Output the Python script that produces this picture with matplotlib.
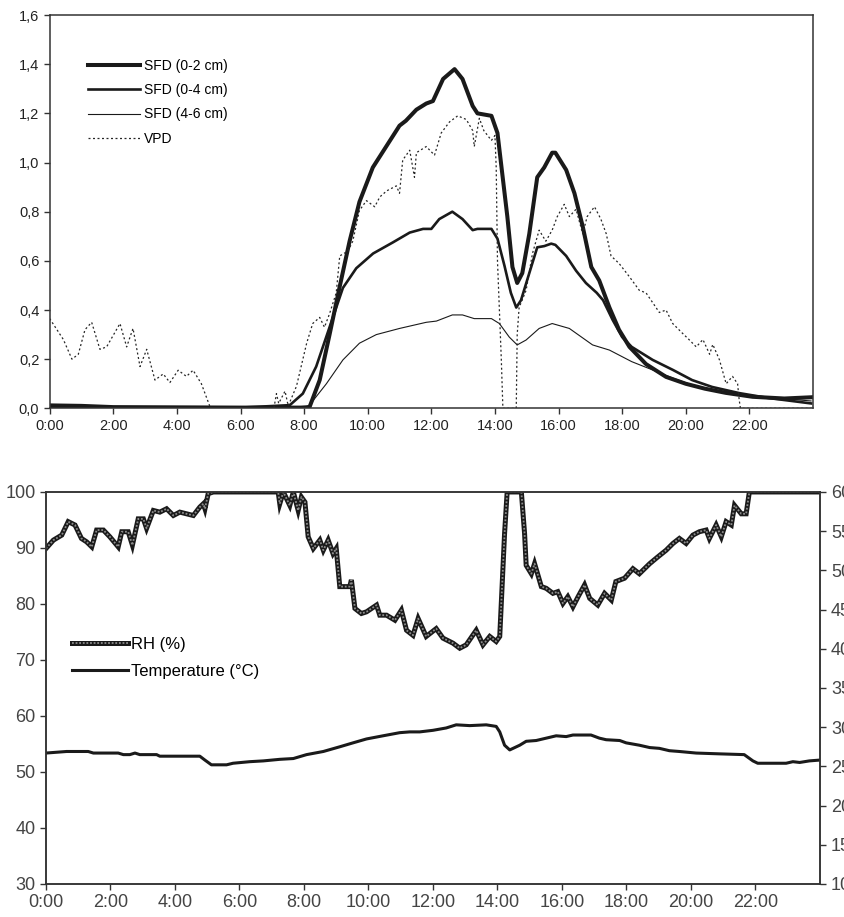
import matplotlib
matplotlib.use("Agg")
import matplotlib.pyplot as plt
from matplotlib.legend_handler import HandlerTuple

plt.rcParams['font.family'] = ['Liberation Sans', 'DejaVu Sans']

# ---- top panel: sap flux density and VPD ----
hour_ticks = [0, 2, 4, 6, 8, 10, 12, 14, 16, 18, 20, 22]
hour_labels = ['0:00', '2:00', '4:00', '6:00', '8:00', '10:00', '12:00',
               '14:00', '16:00', '18:00', '20:00', '22:00']
top_yticks = [0.0, 0.2, 0.4, 0.6, 0.8, 1.0, 1.2, 1.4, 1.6]
top_ylabels = ['0,0', '0,2', '0,4', '0,6', '0,8', '1,0', '1,2', '1,4', '1,6']

t_sfd02 = [0, 1.0, 2.0, 6.0, 7.9, 8.17, 8.49, 8.8, 9.11, 9.43, 9.74, 10.16,
           10.58, 11.0, 11.2, 11.53, 11.84, 12.05, 12.37, 12.73, 12.98, 13.3,
           13.45, 13.89, 14.08, 14.23, 14.39, 14.55, 14.7, 14.86, 15.08, 15.33,
           15.55, 15.8, 15.9, 16.24, 16.5, 16.76, 17.03, 17.28, 17.6, 17.9,
           18.23, 18.75, 19.38, 20.0, 20.6, 21.26, 22.1, 23.1, 23.94]
sfd02 = [0.012, 0.01, 0.005, 0.003, 0.003, 0.005, 0.115, 0.3, 0.49, 0.68, 0.84,
         0.98, 1.065, 1.15, 1.17, 1.215, 1.24, 1.25, 1.34, 1.38, 1.34, 1.23,
         1.20, 1.19, 1.12, 0.955, 0.78, 0.575, 0.51, 0.55, 0.71, 0.94, 0.98,
         1.04, 1.04, 0.97, 0.875, 0.74, 0.575, 0.52, 0.41, 0.32, 0.25, 0.18,
         0.128, 0.1, 0.08, 0.063, 0.047, 0.04, 0.045]

t_sfd04 = [0, 2.0, 6.0, 7.55, 7.96, 8.38, 8.8, 9.22, 9.64, 10.17, 10.79, 11.32,
           11.74, 12.0, 12.25, 12.66, 12.98, 13.3, 13.45, 13.89, 14.08, 14.3,
           14.5, 14.67, 14.82, 15.08, 15.33, 15.55, 15.77, 15.9, 16.24, 16.55,
           16.86, 17.2, 17.4, 17.7, 18.0, 18.3, 18.96, 19.6, 20.2, 20.83,
           21.68, 22.6, 23.94]
sfd04 = [0.006, 0.004, 0.003, 0.013, 0.06, 0.17, 0.33, 0.49, 0.57, 0.63, 0.675,
         0.715, 0.73, 0.73, 0.77, 0.80, 0.77, 0.725, 0.73, 0.73, 0.69, 0.58,
         0.47, 0.41, 0.44, 0.55, 0.655, 0.66, 0.67, 0.665, 0.62, 0.56, 0.51,
         0.47, 0.44, 0.36, 0.29, 0.25, 0.197, 0.156, 0.115, 0.087, 0.062,
         0.042, 0.02]

t_sfd46 = [0, 4.0, 8.0, 8.17, 8.7, 9.22, 9.74, 10.27, 11.0, 11.84, 12.16,
           12.66, 12.98, 13.35, 13.89, 14.14, 14.45, 14.7, 14.98, 15.39, 15.8,
           16.34, 17.07, 17.6, 18.3, 18.96, 19.6, 20.2, 21.05, 22.1, 23.94]
sfd46 = [0.004, 0.003, 0.003, 0.013, 0.1, 0.197, 0.265, 0.3, 0.325, 0.35,
         0.355, 0.38, 0.38, 0.365, 0.365, 0.345, 0.29, 0.258, 0.278, 0.325,
         0.345, 0.325, 0.258, 0.237, 0.19, 0.156, 0.123, 0.095, 0.07, 0.05,
         0.03]

t_vpd = [0, 0.43, 0.7, 0.9, 1.11, 1.32, 1.58, 1.79, 2.21, 2.42, 2.62, 2.84,
         3.05, 3.31, 3.57, 3.78, 4.04, 4.3, 4.51, 4.77, 5.03, 5.1, 7.05, 7.13,
         7.2, 7.4, 7.5, 7.76, 8.08, 8.27, 8.49, 8.64, 8.8, 9.01, 9.12, 9.38,
         9.53, 9.74, 9.96, 10.22, 10.38, 10.6, 10.9, 11.0, 11.1, 11.32, 11.47,
         11.53, 11.84, 12.1, 12.31, 12.57, 12.83, 13.1, 13.3, 13.35, 13.51,
         13.65, 13.89, 14.0, 14.04, 14.08, 14.2, 14.25, 14.67, 14.7, 14.76,
         14.98, 15.18, 15.39, 15.6, 15.8, 15.96, 16.18, 16.34, 16.55, 16.76,
         16.9, 17.13, 17.33, 17.5, 17.65, 17.9, 18.23, 18.54, 18.75, 18.96,
         19.17, 19.38, 19.59, 19.9, 20.1, 20.33, 20.54, 20.75, 20.85, 21.06,
         21.27, 21.47, 21.63, 21.68, 21.72, 24.0]
vpd = [0.365, 0.28, 0.2, 0.22, 0.32, 0.35, 0.24, 0.25, 0.345, 0.25, 0.325,
       0.17, 0.24, 0.115, 0.14, 0.105, 0.155, 0.13, 0.155, 0.1, 0.01, 0.0,
       0.0, 0.06, 0.02, 0.07, 0.01, 0.09, 0.265, 0.345, 0.37, 0.33, 0.385,
       0.47, 0.62, 0.64, 0.68, 0.805, 0.845, 0.82, 0.86, 0.885, 0.905, 0.875,
       1.01, 1.05, 0.94, 1.04, 1.065, 1.03, 1.12, 1.165, 1.19, 1.175, 1.13,
       1.065, 1.18, 1.13, 1.09, 1.11, 0.98, 0.6, 0.2, 0.0, 0.0, 0.3, 0.41,
       0.48, 0.63, 0.725, 0.68, 0.725, 0.78, 0.83, 0.78, 0.81, 0.71, 0.78,
       0.82, 0.77, 0.71, 0.62, 0.59, 0.535, 0.48, 0.47, 0.43, 0.39, 0.40,
       0.345, 0.305, 0.28, 0.25, 0.28, 0.22, 0.26, 0.197, 0.1, 0.13, 0.1,
       0.034, 0.0, 0.0]

# ---- bottom panel: relative humidity and temperature ----
t_rh = [0, 0.23, 0.49, 0.69, 0.9, 1.1, 1.26, 1.42, 1.57, 1.78, 1.98, 2.24,
        2.35, 2.55, 2.68, 2.86, 3.02, 3.12, 3.33, 3.53, 3.74, 3.95, 4.15,
        4.36, 4.57, 4.77, 4.88, 4.93, 5.03, 5.19, 7.2, 7.25, 7.36, 7.56, 7.67,
        7.82, 7.92, 8.03, 8.13, 8.29, 8.49, 8.6, 8.75, 8.9, 9.0, 9.11, 9.42,
        9.47, 9.58, 9.78, 9.94, 10.25, 10.35, 10.56, 10.82, 11.02, 11.18,
        11.38, 11.54, 11.79, 12.1, 12.31, 12.62, 12.83, 13.03, 13.34, 13.55,
        13.76, 13.96, 14.07, 14.22, 14.3, 14.74, 14.84, 14.89, 15.05, 15.15,
        15.36, 15.51, 15.72, 15.87, 16.03, 16.18, 16.34, 16.5, 16.7, 16.86,
        17.11, 17.32, 17.53, 17.67, 17.94, 18.2, 18.4, 18.72, 18.97, 19.23,
        19.44, 19.64, 19.85, 20.06, 20.26, 20.47, 20.57, 20.78, 20.94, 21.09,
        21.25, 21.35, 21.56, 21.71, 21.81, 24.0]
rh = [89.9, 91.4, 92.3, 94.7, 94.1, 91.7, 91.1, 90.2, 93.2, 93.2, 92.0, 90.2,
      92.9, 92.9, 90.5, 95.2, 95.2, 93.5, 96.7, 96.4, 97.0, 95.8, 96.4, 96.1,
      95.8, 97.3, 97.9, 97.0, 99.7, 100, 100, 97.9, 100, 97.6, 100, 96.7, 99.1,
      98.2, 92.0, 89.9, 91.4, 89.6, 91.4, 89.0, 89.9, 83.1, 83.1, 84.3, 79.2,
      78.3, 78.6, 79.8, 78.0, 78.0, 77.1, 78.9, 75.3, 74.4, 77.4, 74.2, 75.6,
      73.9, 73.0, 72.1, 72.7, 75.3, 72.7, 74.2, 73.3, 74.2, 92.6, 100, 100,
      92.6, 86.9, 85.4, 87.2, 83.1, 82.8, 81.9, 82.2, 80.1, 81.3, 79.5, 81.3,
      83.4, 81.0, 79.8, 81.9, 80.7, 84.0, 84.6, 86.3, 85.4, 87.2, 88.4, 89.6,
      90.8, 91.7, 90.8, 92.3, 92.9, 93.2, 91.7, 94.1, 92.0, 94.7, 94.1, 97.6,
      96.1, 96.1, 100, 100]

t_temp = [0, 0.64, 1.31, 1.47, 2.24, 2.4, 2.6, 2.76, 2.91, 3.43, 3.53, 4.77,
          4.93, 5.13, 5.6, 5.8, 6.32, 6.74, 7.25, 7.67, 8.08, 8.6, 9.11, 9.52,
          9.94, 10.45, 10.97, 11.28, 11.59, 12.0, 12.41, 12.72, 13.14, 13.65,
          13.96, 14.07, 14.22, 14.38, 14.69, 14.89, 15.2, 15.51, 15.82, 16.13,
          16.34, 16.9, 17.16, 17.37, 17.79, 17.99, 18.4, 18.72, 19.02, 19.33,
          19.64, 20.16, 20.87, 21.65, 21.92, 22.07, 22.95, 23.16, 23.37, 23.67,
          23.98]
temp = [26.7, 26.9, 26.9, 26.7, 26.7, 26.5, 26.5, 26.7, 26.5, 26.5, 26.3, 26.3,
        25.8, 25.2, 25.2, 25.4, 25.6, 25.7, 25.9, 26.0, 26.5, 26.9, 27.5, 28.0,
        28.5, 28.9, 29.3, 29.4, 29.4, 29.6, 29.9, 30.3, 30.2, 30.3, 30.1, 29.4,
        27.7, 27.1, 27.7, 28.2, 28.3, 28.6, 28.9, 28.8, 29.0, 29.0, 28.6, 28.4,
        28.3, 28.0, 27.7, 27.4, 27.3, 27.0, 26.9, 26.7, 26.6, 26.5, 25.7, 25.4,
        25.4, 25.6, 25.5, 25.7, 25.8]

line_col = '#1a1a1a'
spine_col = '#333333'

fig = plt.figure(figsize=(8.45, 9.17), dpi=100)

# top panel
ax1 = fig.add_axes([0.0588, 0.5547, 0.9033, 0.4289])
l1, = ax1.plot(t_sfd02, sfd02, color=line_col, lw=2.9, label='SFD (0-2 cm)')
l2, = ax1.plot(t_sfd04, sfd04, color=line_col, lw=1.9, label='SFD (0-4 cm)')
l3, = ax1.plot(t_sfd46, sfd46, color=line_col, lw=0.8, label='SFD (4-6 cm)')
l4, = ax1.plot(t_vpd, vpd, color='#262626', lw=0.9, ls=(0, (1.6, 2.0)),
               label='VPD')
ax1.set_xlim(0, 24)
ax1.set_ylim(0, 1.6)
ax1.set_xticks(hour_ticks)
ax1.set_xticklabels(hour_labels)
ax1.set_yticks(top_yticks)
ax1.set_yticklabels(top_ylabels)
ax1.tick_params(direction='out', length=4, width=1, colors=spine_col,
                labelsize=10.5, labelcolor='#222222')
for s in ax1.spines.values():
    s.set_color(spine_col)
    s.set_linewidth(1.1)
ax1.legend(handles=[l1, l2, l3, l4], loc='upper left',
           bbox_to_anchor=(0.05, 0.888), frameon=False, fontsize=10,
           handlelength=3.75, handletextpad=0.3, labelspacing=0.73,
           borderpad=0, borderaxespad=0)

# bottom panel
ax2 = fig.add_axes([0.0544, 0.036, 0.916, 0.4275])
ax3 = ax2.twinx()
r1, = ax2.plot(t_rh, rh, color=line_col, lw=3.6, solid_joinstyle='miter')
r2, = ax2.plot(t_rh, rh, color='#8c8c8c', lw=1.3, ls=(0, (1, 1)))
tl, = ax3.plot(t_temp, temp, color=line_col, lw=2.2)
ax2.set_xlim(0, 24)
ax2.set_ylim(30, 100)
ax3.set_ylim(10, 60)
ax2.set_xticks(hour_ticks)
ax2.set_xticklabels(hour_labels)
ax2.set_yticks([30, 40, 50, 60, 70, 80, 90, 100])
ax3.set_yticks([10, 15, 20, 25, 30, 35, 40, 45, 50, 55, 60])
for a in (ax2, ax3):
    a.tick_params(direction='out', length=4, width=1, colors=spine_col,
                  labelsize=13, labelcolor='#444444')
    for s in a.spines.values():
        s.set_color(spine_col)
        s.set_linewidth(1.1)
ax3.tick_params(axis='y', pad=4)
ax2.legend(handles=[(r1, r2), tl], labels=['RH (%)', 'Temperature (°C)'],
           handler_map={tuple: HandlerTuple(ndivide=1)},
           loc='upper left', bbox_to_anchor=(0.034, 0.63), frameon=False,
           fontsize=12, handlelength=3.35, handletextpad=0.15,
           labelspacing=0.69, borderpad=0, borderaxespad=0)

fig.savefig('out.png', dpi=100)
